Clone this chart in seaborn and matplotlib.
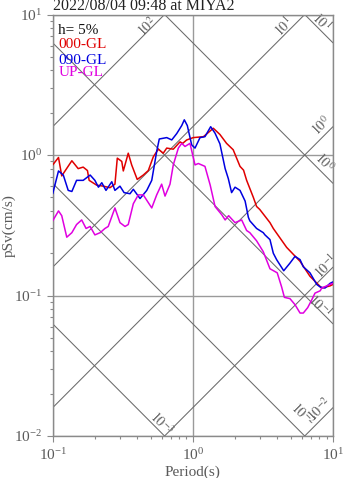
import numpy as np
import pandas as pd
import matplotlib
matplotlib.use("Agg")
import matplotlib.pyplot as plt
from matplotlib.ticker import LogLocator, NullFormatter
import seaborn as sns

# Pseudo-velocity response spectra (h = 5%), three components
period_ns = [0.100, 0.110, 0.116, 0.137, 0.152, 0.165, 0.177, 0.182, 0.206, 0.230,
             0.256, 0.278, 0.289, 0.311, 0.319, 0.346, 0.366, 0.401, 0.443, 0.481,
             0.522, 0.567, 0.615, 0.651, 0.725, 0.810, 0.846, 0.904, 1.007, 1.19,
             1.40, 1.56, 1.74, 1.94, 2.17, 2.30, 2.42, 2.70, 2.85, 3.00,
             3.55, 3.75, 4.67, 5.82, 6.85, 8.31, 9.52, 10.0]
sv_ns = [0.85, 0.96, 0.71, 0.91, 0.80, 0.82, 0.775, 0.66, 0.61, 0.60,
         0.585, 0.62, 0.95, 0.90, 0.77, 1.03, 0.85, 0.67, 0.72, 0.775,
         0.97, 1.10, 1.03, 1.12, 1.10, 1.24, 1.21, 1.28, 1.33, 1.35,
         1.55, 1.40, 1.21, 1.09, 0.83, 0.78, 0.66, 0.50, 0.43, 0.41,
         0.33, 0.30, 0.22, 0.175, 0.137, 0.113, 0.117, 0.12]

period_ew = [0.100, 0.110, 0.119, 0.129, 0.137, 0.148, 0.165, 0.185, 0.200, 0.212,
             0.224, 0.240, 0.264, 0.278, 0.302, 0.323, 0.356, 0.376, 0.420, 0.469,
             0.509, 0.552, 0.576, 0.651, 0.707, 0.767, 0.833, 0.869, 0.913, 0.981,
             1.036, 1.125, 1.22, 1.34, 1.44, 1.56, 1.70, 1.79, 1.89, 2.00,
             2.17, 2.36, 2.49, 2.55, 2.85, 3.18, 3.27, 3.55, 3.75, 3.96,
             4.45, 4.93, 5.36, 5.82, 6.14, 6.85, 7.65, 8.10, 8.77, 9.52, 10.0]
sv_ew = [0.53, 0.77, 0.72, 0.56, 0.55, 0.66, 0.66, 0.72, 0.66, 0.59,
         0.635, 0.56, 0.645, 0.56, 0.60, 0.54, 0.53, 0.57, 0.49, 0.56,
         0.66, 1.06, 1.30, 1.33, 1.28, 1.42, 1.62, 1.78, 1.62, 1.18,
         1.12, 1.33, 1.35, 1.59, 1.43, 1.20, 0.80, 0.68, 0.54, 0.59,
         0.56, 0.47, 0.36, 0.34, 0.30, 0.28, 0.27, 0.25, 0.20, 0.18,
         0.15, 0.17, 0.19, 0.18, 0.16, 0.145, 0.12, 0.115, 0.113, 0.122, 0.125]

period_ud = [0.100, 0.110, 0.116, 0.126, 0.137, 0.148, 0.161, 0.173, 0.185, 0.200,
             0.218, 0.236, 0.249, 0.278, 0.302, 0.328, 0.346, 0.376, 0.408, 0.443,
             0.509, 0.552, 0.599, 0.633, 0.687, 0.725, 0.788, 0.833, 0.879, 0.954,
             1.036, 1.094, 1.22, 1.33, 1.44, 1.61, 1.70, 1.80, 2.00, 2.23,
             2.42, 2.55, 2.85, 3.18, 3.55, 4.00, 4.30, 4.50, 4.93, 5.36,
             5.82, 6.14, 6.60, 7.05, 7.44, 8.10, 8.31, 9.52, 10.0]
sv_ud = [0.34, 0.40, 0.37, 0.26, 0.28, 0.32, 0.345, 0.30, 0.31, 0.27,
         0.28, 0.30, 0.31, 0.42, 0.33, 0.31, 0.32, 0.45, 0.52, 0.52,
         0.42, 0.52, 0.62, 0.51, 0.62, 0.85, 1.12, 1.21, 1.15, 1.21,
         0.85, 0.87, 0.83, 0.61, 0.43, 0.375, 0.345, 0.37, 0.33, 0.345,
         0.29, 0.28, 0.245, 0.205, 0.155, 0.145, 0.115, 0.097, 0.095, 0.086,
         0.075, 0.075, 0.082, 0.093, 0.104, 0.108, 0.113, 0.12, 0.122]

components = ["000-GL", "090-GL", "UP-GL"]
colors = ["#e00000", "#0000e0", "#e000e0"]
damping_text = "h= 5%"
title_text = "2022/08/04 09:48 at MIYA2"

# Tripartite guide lines: acceleration (gal) and displacement (cm)
acc_exponents = [-2, -1, 0, 1, 2]
disp_exponents = [-3, -2, -1, 0, 1]
# (kind, exponent, period along the line, perpendicular gap in px)
guide_labels = [
    ("acc", 2, 0.492, 3.8), ("acc", 1, 4.81, 6.3), ("acc", 0, 9.16, 9.0),
    ("acc", -1, 9.5, 5.6), ("acc", -2, 8.85, 8.0),
    ("disp", 1, 7.65, 6.1), ("disp", 0, 7.84, 8.2), ("disp", -1, 7.8, 2.9),
    ("disp", -2, 5.19, 13.2), ("disp", -3, 0.55, 6.5),
]

df = pd.concat([
    pd.DataFrame({"period": p, "psv": s, "component": c})
    for p, s, c in [(period_ns, sv_ns, components[0]),
                    (period_ew, sv_ew, components[1]),
                    (period_ud, sv_ud, components[2])]
], ignore_index=True)

sns.set_theme(style="white")
plt.rcParams["font.family"] = ["Liberation Serif", "DejaVu Serif"]
plt.rcParams["mathtext.fontset"] = "stix"

W, H = 347, 478
fig = plt.figure(figsize=(W / 100, H / 100), dpi=100)
ax = fig.add_axes([52.7 / W, 42 / H, 280.3 / W, 421.5 / H])
ax.set_xscale("log")
ax.set_yscale("log")
ax.set_xlim(0.1, 10)
ax.set_ylim(0.01, 10)

guide_color = "#6a6a6a"
frame_color = "#8a8a8a"
text_gray = "#5a5a5a"


def guide_sv(kind, exp, t):
    t = np.asarray(t, dtype=float)
    if kind == "acc":
        return 10.0 ** exp * t / (2 * np.pi)
    return 2 * np.pi * 10.0 ** exp / t


t_line = np.geomspace(0.1, 10, 60)
for e in acc_exponents:
    ax.plot(t_line, guide_sv("acc", e, t_line), color=guide_color, lw=0.75, zorder=1)
for e in disp_exponents:
    ax.plot(t_line, guide_sv("disp", e, t_line), color=guide_color, lw=0.75, zorder=1)

for kind, e, t, gap in guide_labels:
    d = gap / np.sqrt(2)
    off, rot = ((-d, d), 45) if kind == "acc" else ((d, d), -45)
    ax.annotate(rf"$10^{{{e}}}$", (t, float(guide_sv(kind, e, t))), xytext=off,
                textcoords="offset pixels", rotation=rot, rotation_mode="anchor",
                ha="center", va="center", fontsize=10, color="#606060", zorder=2)

ax.grid(True, which="major", color="#9a9a9a", lw=1.0, zorder=0)
ax.set_axisbelow(True)

sns.lineplot(data=df, x="period", y="psv", hue="component", hue_order=components,
             palette=colors, estimator=None, sort=False, legend=False, lw=1.1,
             ax=ax, zorder=3)

for sp in ax.spines.values():
    sp.set_color(frame_color)
    sp.set_linewidth(1.0)

ax.xaxis.set_major_locator(LogLocator(base=10, numticks=10))
ax.yaxis.set_major_locator(LogLocator(base=10, numticks=10))
ax.xaxis.set_minor_locator(LogLocator(base=10, subs=np.arange(2, 10), numticks=20))
ax.yaxis.set_minor_locator(LogLocator(base=10, subs=np.arange(2, 10), numticks=20))
ax.xaxis.set_minor_formatter(NullFormatter())
ax.yaxis.set_minor_formatter(NullFormatter())
ax.tick_params(which="major", direction="out", length=4.3, width=0.8,
               color=frame_color, labelsize=11, labelcolor=text_gray)
ax.tick_params(which="minor", direction="out", length=2.5, width=0.8, color=frame_color)
ax.tick_params(axis="x", which="major", pad=4, bottom=True)
ax.tick_params(axis="y", which="major", pad=3, left=True)
ax.tick_params(which="minor", bottom=True, left=True)

ax.set_xlabel("Period(s)", fontsize=11, color=text_gray)
ax.set_ylabel("pSv(cm/s)", fontsize=11, color=text_gray)
ax.xaxis.set_label_coords(0.5, -0.085)
ax.xaxis.label.set_va("center")
ax.yaxis.set_label_coords(-0.155, 0.5)
ax.yaxis.label.set_va("center")

x0 = (58.3 - 52.7) / 280.3
legend_rows = [(damping_text, "#111111", 34)] + [
    (c, col, yb) for c, col, yb in zip(components, colors, [48.5, 63.5, 76])]
for txt, col, yb in legend_rows:
    ax.text(x0, (436 - yb) / 421.5, txt, transform=ax.transAxes, ha="left",
            va="baseline", fontsize=11, color=col, zorder=4)

fig.text(53 / W, 1 - 10.5 / H, title_text, ha="left", va="baseline",
         fontsize=11.5, color="#222222")

fig.savefig("out.png", dpi=100)
